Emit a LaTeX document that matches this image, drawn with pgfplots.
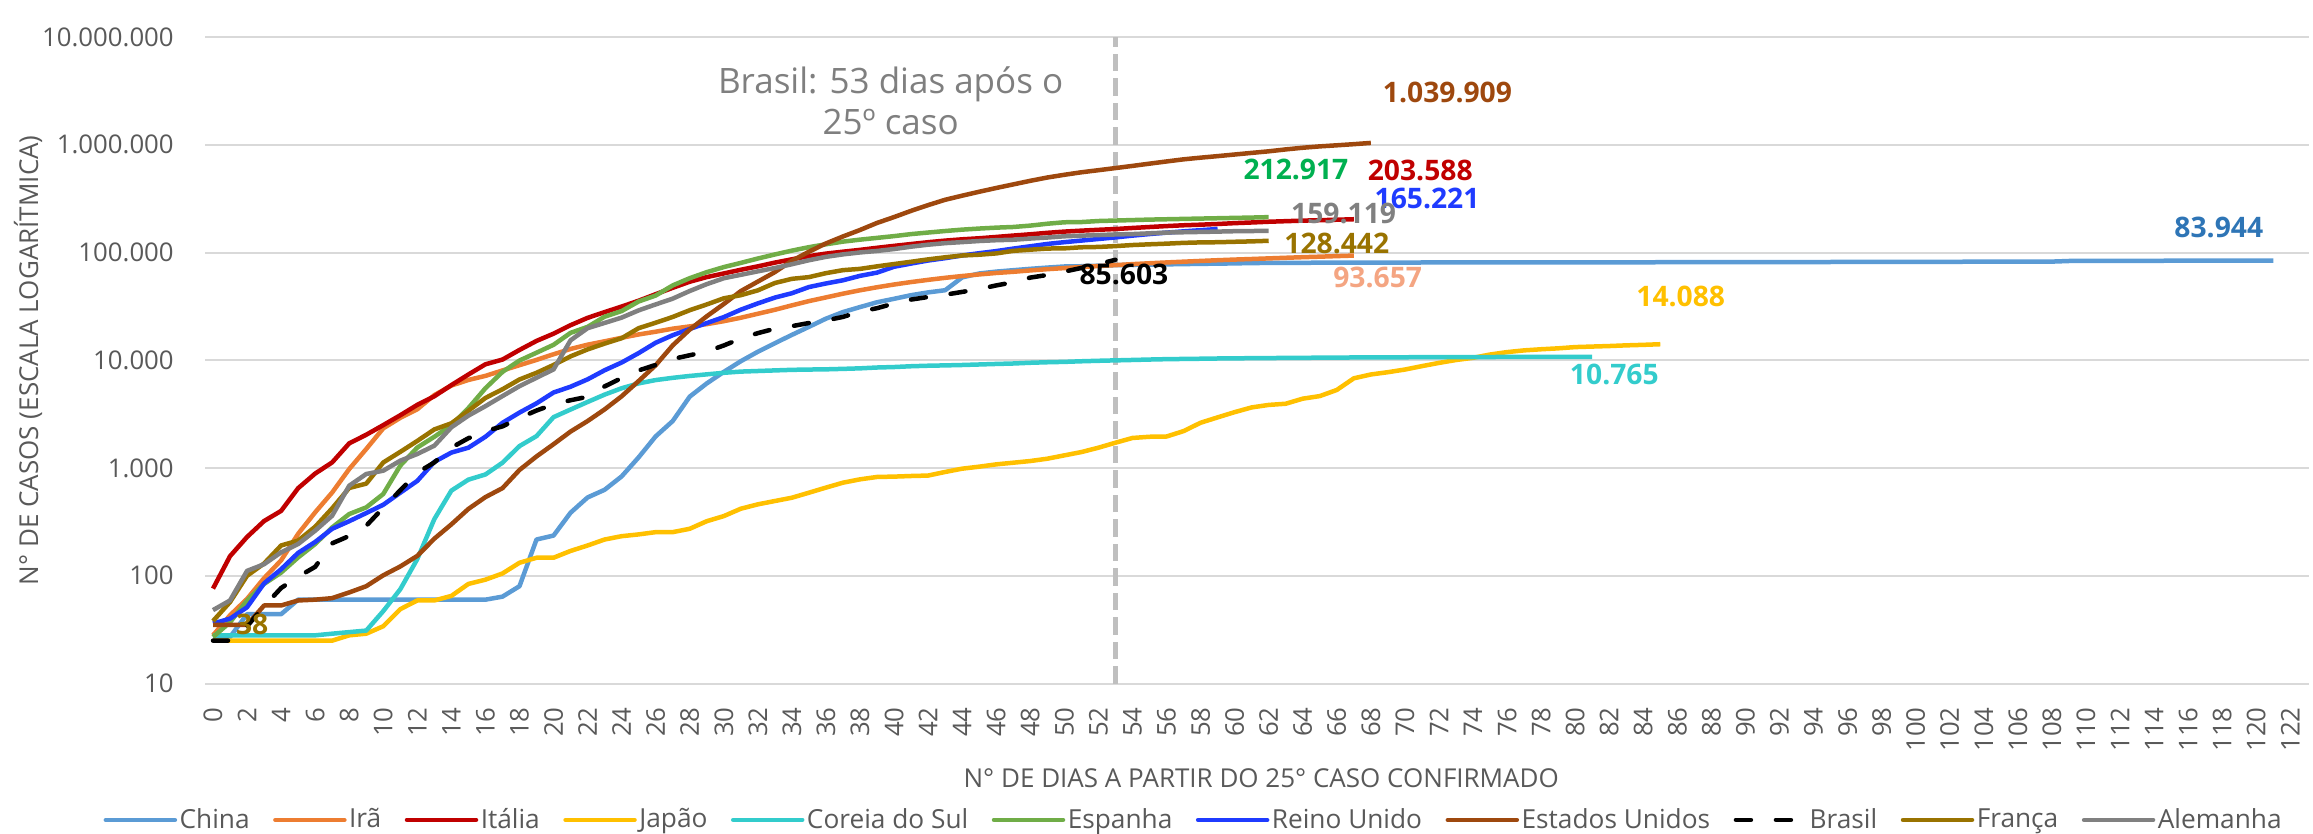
\documentclass[border=0pt]{standalone}
\usepackage{fontspec}
\setmainfont{Open Sans}
\usepackage{pgfplots}
\pgfplotsset{compat=1.18}
\definecolor{gridc}{HTML}{D9D9D9}
\definecolor{tickc}{HTML}{595959}
\definecolor{annc}{HTML}{7F7F7F}
\definecolor{vline}{HTML}{BFBFBF}
\definecolor{cChina}{HTML}{5B9BD5}
\definecolor{cIra}{HTML}{ED7D31}
\definecolor{cItalia}{HTML}{C00000}
\definecolor{cJapao}{HTML}{FFC000}
\definecolor{cCoreia}{HTML}{33CCCC}
\definecolor{cEspanha}{HTML}{70AD47}
\definecolor{cReino}{HTML}{1F3BFF}
\definecolor{cEUA}{HTML}{9E480E}
\definecolor{cFranca}{HTML}{997300}
\definecolor{cAlemanha}{HTML}{808080}
\definecolor{lChina}{HTML}{2E75B6}
\definecolor{lEspanha}{HTML}{00B050}
\definecolor{lIra}{HTML}{F4A582}
\newcommand{\lbl}{\fontsize{11.3}{13}\selectfont\bfseries}
\begin{document}
\begin{tikzpicture}
\useasboundingbox (0,0) rectangle (925.2pt,333.2pt);
\begin{axis}[
  at={(82pt,59.8pt)}, anchor=south west,
  scale only axis, width=841.6pt, height=258.6pt,
  xmin=-0.47, xmax=123.1,
  ymode=log, log basis y=10, ymin=10, ymax=1e7,
  xtick={0,2,...,122},
  ytick={10,100,1000,10000,100000,1000000,10000000},
  yticklabels={10,100,1.000,10.000,100.000,1.000.000,10.000.000},
  ymajorgrids, grid style={line width=0.8pt, color=gridc},
  axis line style={draw=none},
  major tick length=0pt,
  tick label style={font=\fontsize{10.3}{12}\selectfont, text=tickc},
  /pgf/number format/assume math mode=true,
  xticklabel style={rotate=90, anchor=east},
  xticklabel shift=6pt,
  yticklabel shift=9pt,
  xlabel={N° DE DIAS A PARTIR DO 25° CASO CONFIRMADO},
  ylabel={N° DE CASOS (ESCALA LOGARÍTMICA)},
  label style={font=\fontsize{10.4}{12}\selectfont, text=tickc},
  xlabel style={at={(axis description cs:0.502,-0.146)}, anchor=center, inner sep=0pt},
  ylabel style={at={(axis description cs:-0.0841,0.5)}, anchor=center, inner sep=0pt},
  clip=false,
  legend columns=-1,
  legend cell align=left,
  legend style={at={(axis description cs:0.47,-0.211)}, anchor=center, draw=none, fill=none,
    font=\fontsize{10.5}{12}\selectfont, text=tickc, inner sep=0pt,
    nodes={inner xsep=1pt, inner ysep=1pt},
    /tikz/every even column/.append style={column sep=8.4pt}},
  legend image code/.code={\draw[#1, line cap=round] (0pt,0pt) -- (27.6pt,0pt);},
  every axis plot/.append style={line width=1.8pt, line join=round},
]
% vertical reference line at day 53
\addplot[forget plot, vline, line width=2.2pt, dash pattern=on 7pt off 2.8pt] coordinates {(53,10) (53,1e7)};

\addplot[cChina] coordinates {(0,27)(1,27)(2,44)(3,44)(4,44)(5,60)(6,60)(7,60)(8,60)(9,60)(10,60)(11,60)(12,60)(13,60)(14,60)(15,60)(16,60)(17,64)(18,80)(19,217)(20,236)(21,385)(22,533)(23,628)(24,836)(25,1257)(26,1968)(27,2729)(28,4600)(29,6100)(30,7800)(31,9800)(32,12000)(33,14400)(34,17205)(35,20440)(36,24324)(37,28018)(38,31161)(39,34546)(40,37198)(41,40171)(42,42638)(43,44653)(44,58761)(45,63851)(46,66492)(47,68500)(48,70548)(49,72436)(50,74185)(51,74576)(52,75465)(53,76288)(54,76936)(55,77150)(56,77658)(57,78064)(58,78497)(59,78824)(60,79251)(61,79824)(62,80026)(63,80151)(64,80270)(65,80409)(66,80552)(67,80651)(68,80695)(69,80735)(70,80754)(75,80844)(80,80967)(85,81218)(90,81470)(95,81639)(100,81865)(105,82249)(108,82341)(109,83403)(115,83884)(121,83944)};
\addlegendentry{China}

\addplot[cIra] coordinates {(0,28)(1,43)(2,61)(3,95)(4,139)(5,245)(6,388)(7,593)(8,978)(9,1501)(10,2336)(11,2922)(12,3513)(13,4747)(14,5823)(15,6566)(16,7161)(17,8042)(18,9000)(19,10075)(20,11364)(21,12729)(22,13938)(23,14991)(24,16169)(25,17361)(26,18407)(27,19644)(28,20610)(29,21638)(30,23049)(31,24811)(32,27017)(33,29406)(34,32332)(35,35408)(36,38309)(37,41495)(38,44605)(39,47593)(40,50468)(41,53183)(42,55743)(43,58226)(44,60500)(45,62589)(46,64586)(47,66220)(48,68192)(49,70029)(50,71686)(51,73303)(52,74877)(53,76389)(54,77995)(55,79494)(56,80868)(57,82211)(58,83505)(59,84802)(60,85996)(61,87026)(62,88194)(63,89328)(64,90481)(65,91472)(66,92584)(67,93657)};
\addlegendentry{Irã}

\addplot[cItalia] coordinates {(0,76)(1,152)(2,229)(3,322)(4,400)(5,650)(6,888)(7,1128)(8,1694)(9,2036)(10,2502)(11,3089)(12,3858)(13,4636)(14,5883)(15,7375)(16,9172)(17,10149)(18,12462)(19,15113)(20,17660)(21,21157)(22,24747)(23,27980)(24,31506)(25,35713)(26,41035)(27,47021)(28,53578)(29,59138)(30,63927)(31,69176)(32,74386)(33,80589)(34,86498)(35,92472)(36,97689)(37,101739)(38,105792)(39,110574)(40,115242)(41,119827)(42,124632)(43,128948)(44,132547)(45,135586)(46,139422)(47,143626)(48,147577)(49,152271)(50,156363)(51,159516)(52,162488)(53,165155)(54,168941)(55,172434)(56,175925)(57,178972)(58,181228)(59,183957)(60,187327)(61,189973)(62,192994)(63,195351)(64,197675)(65,199414)(66,201505)(67,203588)};
\addlegendentry{Itália}

\addplot[cJapao] coordinates {(0,25)(1,25)(2,25)(3,25)(4,25)(5,25)(6,25)(7,25)(8,28)(9,29)(10,34)(11,49)(12,59)(13,59)(14,65)(15,84)(16,92)(17,105)(18,132)(19,147)(20,147)(21,170)(22,191)(23,217)(24,233)(25,242)(26,254)(27,254)(28,273)(29,321)(30,358)(31,419)(32,460)(33,494)(34,530)(35,590)(36,658)(37,731)(38,785)(39,826)(40,832)(41,843)(42,851)(43,919)(44,986)(45,1029)(46,1081)(47,1120)(48,1161)(49,1220)(50,1310)(51,1406)(52,1543)(53,1717)(54,1900)(55,1950)(56,1960)(57,2200)(58,2630)(59,2950)(60,3300)(61,3650)(62,3850)(63,3950)(64,4400)(65,4650)(66,5300)(67,6800)(68,7380)(69,7750)(70,8200)(71,8820)(72,9450)(73,10050)(74,10540)(75,11300)(76,11900)(77,12350)(78,12650)(79,12900)(80,13250)(81,13400)(82,13550)(83,13750)(84,13900)(85,14088)};
\addlegendentry{Japão}

\addplot[cCoreia] coordinates {(0,28)(1,28)(2,28)(3,28)(4,28)(5,28)(6,28)(7,29)(8,30)(9,31)(10,47)(11,75)(12,143)(13,336)(14,617)(15,780)(16,871)(17,1119)(18,1597)(19,1977)(20,2965)(21,3490)(22,4100)(23,4800)(24,5500)(25,6100)(26,6550)(27,6870)(28,7150)(29,7400)(30,7650)(31,7850)(32,7950)(33,8050)(34,8150)(35,8200)(36,8236)(37,8320)(38,8413)(39,8565)(40,8652)(41,8799)(42,8897)(43,8961)(44,9037)(45,9137)(46,9241)(47,9332)(48,9478)(49,9583)(50,9661)(51,9786)(52,9887)(53,9976)(54,10062)(55,10156)(56,10237)(57,10284)(58,10331)(59,10384)(60,10423)(61,10450)(62,10480)(63,10512)(64,10537)(65,10564)(66,10591)(67,10613)(68,10635)(69,10653)(70,10661)(71,10674)(72,10683)(73,10694)(74,10708)(75,10718)(76,10728)(77,10738)(78,10752)(79,10761)(80,10763)(81,10765)};
\addlegendentry{Coreia do Sul}

\addplot[cEspanha] coordinates {(0,27)(1,37)(2,59)(3,84)(4,107)(5,148)(6,197)(7,281)(8,374)(9,431)(10,574)(11,1053)(12,1550)(13,1950)(14,2500)(15,3600)(16,5500)(17,7798)(18,9942)(19,11748)(20,13910)(21,17963)(22,20410)(23,25374)(24,28603)(25,35136)(26,39885)(27,49515)(28,57786)(29,65719)(30,73235)(31,80110)(32,87956)(33,95923)(34,104118)(35,112065)(36,119199)(37,126168)(38,131646)(39,136675)(40,141942)(41,148220)(42,153222)(43,158273)(44,163027)(45,166831)(46,170099)(47,172541)(48,177644)(49,184948)(50,190839)(51,191726)(52,196000)(53,198000)(54,200000)(55,202000)(56,203500)(57,205000)(58,206500)(59,208000)(60,209500)(61,211000)(62,212917)};
\addlegendentry{Espanha}

\addplot[cReino] coordinates {(0,36)(1,40)(2,51)(3,85)(4,115)(5,163)(6,206)(7,273)(8,321)(9,382)(10,456)(11,590)(12,760)(13,1140)(14,1391)(15,1543)(16,1950)(17,2626)(18,3269)(19,3983)(20,5018)(21,5683)(22,6650)(23,8077)(24,9529)(25,11658)(26,14543)(27,17089)(28,19522)(29,22141)(30,25150)(31,29474)(32,33718)(33,38168)(34,41903)(35,47806)(36,51608)(37,55242)(38,60733)(39,65077)(40,73758)(41,78991)(42,84279)(43,88621)(44,93873)(45,98476)(46,103093)(47,108692)(48,114217)(49,120067)(50,124743)(51,129044)(52,133495)(53,138078)(54,143464)(55,148377)(56,152840)(57,157149)(58,161145)(59,165221)};
\addlegendentry{Reino Unido}

\addplot[cEUA] coordinates {(0,35)(1,35)(2,35)(3,53)(4,53)(5,59)(6,60)(7,62)(8,70)(9,80)(10,101)(11,122)(12,153)(13,221)(14,300)(15,417)(16,537)(17,650)(18,959)(19,1281)(20,1663)(21,2179)(22,2727)(23,3499)(24,4632)(25,6421)(26,9000)(27,13747)(28,19273)(29,25600)(30,33276)(31,43847)(32,53740)(33,65778)(34,83836)(35,101657)(36,121465)(37,140909)(38,161831)(39,188172)(40,213242)(41,243622)(42,275367)(43,308650)(44,336802)(45,366317)(46,397121)(47,428654)(48,462780)(49,496535)(50,526396)(51,555313)(52,580619)(53,607670)(54,636350)(55,667801)(56,699706)(57,732197)(58,759086)(59,784326)(60,811865)(61,840351)(62,869170)(63,905358)(64,938154)(65,965785)(66,988197)(67,1012582)(68,1039909)};
\addlegendentry{Estados Unidos}

\addplot[black, line cap=round, dash pattern=on 6pt off 10pt] coordinates {(0,25)(1,25)(2,34)(3,52)(4,77)(5,98)(6,121)(7,200)(8,234)(9,291)(10,428)(11,621)(12,904)(13,1128)(14,1546)(15,1891)(16,2201)(17,2433)(18,2915)(19,3417)(20,3904)(21,4256)(22,4579)(23,5717)(24,6836)(25,8044)(26,9056)(27,10278)(28,11130)(29,12056)(30,13717)(31,15927)(32,17857)(33,19638)(34,20727)(35,22169)(36,23430)(37,25262)(38,28320)(39,30425)(40,33682)(41,36599)(42,38654)(43,40581)(44,43079)(45,45757)(46,49492)(47,52995)(48,58509)(49,61888)(50,66501)(51,71886)(52,78162)(53,85603)};
\addlegendentry{Brasil}

\addplot[cFranca] coordinates {(0,38)(1,57)(2,100)(3,130)(4,191)(5,212)(6,285)(7,423)(8,653)(9,716)(10,1126)(11,1412)(12,1784)(13,2281)(14,2600)(15,3400)(16,4469)(17,5380)(18,6633)(19,7652)(20,9043)(21,10871)(22,12612)(23,14282)(24,16018)(25,19856)(26,22304)(27,25233)(28,29155)(29,32964)(30,37575)(31,40174)(32,44550)(33,52128)(34,56989)(35,59105)(36,64338)(37,68605)(38,70478)(39,74390)(40,78167)(41,82048)(42,86334)(43,90276)(44,93790)(45,95403)(46,98076)(47,103573)(48,106206)(49,108847)(50,109252)(51,111821)(52,112606)(53,114657)(54,117324)(55,119151)(56,120804)(57,122875)(58,124114)(59,124575)(60,125770)(61,126835)(62,128442)};
\addlegendentry{França}

\addplot[cAlemanha] coordinates {(0,48)(1,59)(2,111)(3,128)(4,165)(5,197)(6,262)(7,361)(8,685)(9,880)(10,944)(11,1170)(12,1349)(13,1611)(14,2387)(15,3063)(16,3750)(17,4650)(18,5750)(19,6880)(20,8220)(21,15320)(22,19848)(23,22213)(24,24873)(25,29056)(26,32986)(27,37323)(28,43938)(29,50871)(30,57695)(31,62095)(32,66885)(33,71808)(34,77872)(35,84794)(36,91159)(37,96092)(38,100123)(39,103374)(40,107663)(41,113296)(42,118181)(43,122171)(44,124908)(45,127854)(46,130072)(47,131359)(48,134753)(49,137698)(50,141397)(51,143342)(52,145184)(53,147065)(54,148291)(55,150648)(56,153129)(57,154175)(58,155193)(59,156337)(60,157641)(61,158213)(62,159119)};
\addlegendentry{Alemanha}

% data labels
\node[font=\lbl, text=cEUA, inner sep=0pt] at (axis cs:72.5,3.076e6) {1.039.909};
\node[font=\lbl, text=lEspanha, inner sep=0pt] at (axis cs:63.6,5.93e5) {212.917};
\node[font=\lbl, text=cItalia, inner sep=0pt] at (axis cs:70.9,5.74e5) {203.588};
\node[font=\lbl, text=cReino, inner sep=0pt] at (axis cs:71.3,3.155e5) {165.221};
\node[font=\lbl, text=cAlemanha, inner sep=0pt] at (axis cs:66.4,2.286e5) {159.119};
\node[font=\lbl, text=cFranca, inner sep=0pt] at (axis cs:66.0,1.205e5) {128.442};
\node[font=\lbl, text=lIra, inner sep=0pt] at (axis cs:68.4,5.82e4) {93.657};
\node[font=\lbl, text=black, inner sep=0pt] at (axis cs:53.5,6.28e4) {85.603};
\node[font=\lbl, text=cJapao, inner sep=0pt] at (axis cs:86.2,3.917e4) {14.088};
\node[font=\lbl, text=cCoreia, inner sep=0pt] at (axis cs:82.3,7311) {10.765};
\node[font=\lbl, text=lChina, inner sep=0pt] at (axis cs:117.8,1.714e5) {83.944};
\node[font=\lbl, text=cFranca, inner sep=0pt] at (axis cs:2.3,35.3) {38};
% annotation
\node[font=\fontsize{14}{16.5}\selectfont, text=annc, align=center, anchor=north, inner sep=0pt] at (axis cs:39.8,5.38e6) {Brasil: 53 dias após o\\25º caso};
\end{axis}
\end{tikzpicture}
\end{document}
